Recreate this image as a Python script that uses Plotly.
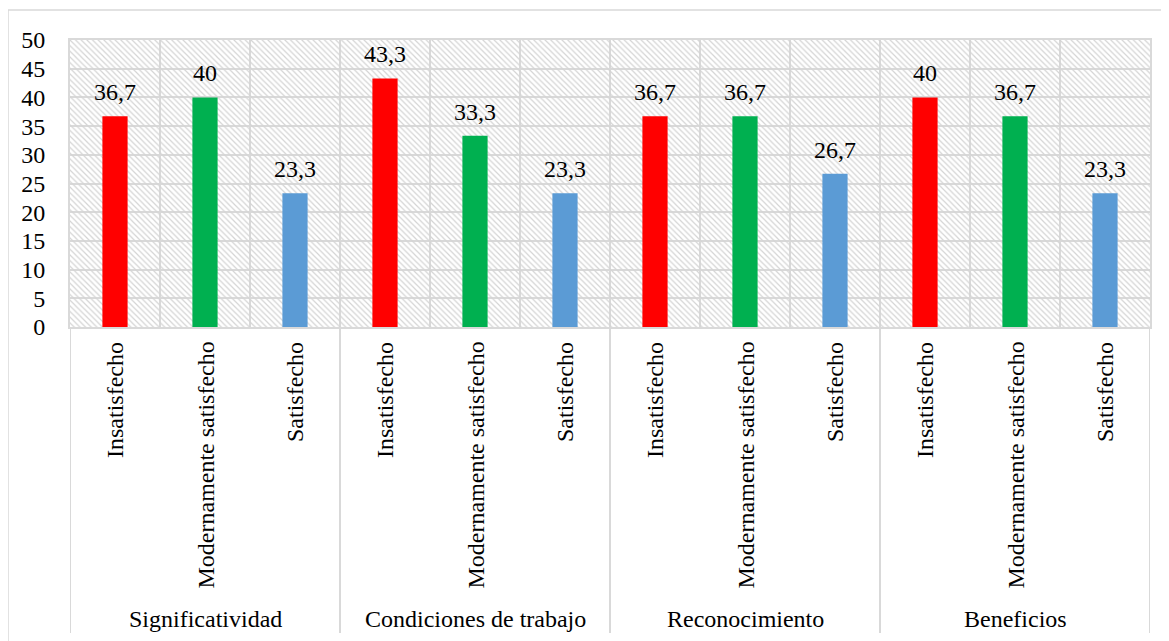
import plotly.graph_objects as go

groups = ["Significatividad", "Condiciones de trabajo", "Reconocimiento", "Beneficios"]
levels = ["Insatisfecho", "Modernamente satisfecho", "Satisfecho"]
significatividad = [36.7, 40, 23.3]
condiciones = [43.3, 33.3, 23.3]
reconocimiento = [36.7, 36.7, 26.7]
beneficios = [40, 36.7, 23.3]
level_colors = ["#FF0000", "#00B050", "#5B9BD5"]
y_ticks = [0, 5, 10, 15, 20, 25, 30, 35, 40, 45, 50]

series = [significatividad, condiciones, reconocimiento, beneficios]
ymax = max(y_ticks)
FONT = "Liberation Serif, Times New Roman, serif"
FS = 24
GRID = "#d9d9d9"

n = len(groups) * len(levels)
xs, ys, cols, labels = [], [], [], []
for gi, vals in enumerate(series):
    for li, v in enumerate(vals):
        xs.append(gi * len(levels) + li + 0.5)
        ys.append(v)
        cols.append(level_colors[li])
        labels.append(levels[li])

fig = go.Figure()
# hatched background
fig.add_trace(go.Bar(
    x=[i + 0.5 for i in range(n)], y=[ymax] * n, width=1,
    marker=dict(color="rgba(0,0,0,0)", line=dict(width=0),
                pattern=dict(shape="\\", fgcolor="#d4d4d4", bgcolor="rgba(0,0,0,0)",
                             size=4, solidity=0.3, fillmode="replace")),
    hoverinfo="skip", showlegend=False))
fig.add_trace(go.Bar(
    x=xs, y=ys, width=0.28, marker=dict(color=cols, line=dict(width=0)),
    showlegend=False))

ann = []
for x, y in zip(xs, ys):
    ann.append(dict(x=x, y=y, xref="x", yref="y", text=f"{y:g}".replace(".", ","),
                    showarrow=False, yanchor="bottom", xanchor="center", yshift=9,
                    font=dict(family=FONT, size=FS, color="black")))
for x, lab in zip(xs, labels):
    ann.append(dict(x=x, y=-13 / 287, xref="x", yref="paper", text=lab, textangle=-90,
                    showarrow=False, yanchor="top", xanchor="center",
                    font=dict(family=FONT, size=FS, color="black")))
for gi, g in enumerate(groups):
    ann.append(dict(x=gi * len(levels) + len(levels) / 2, y=-292 / 287, xref="x", yref="paper",
                    text=g, showarrow=False, yanchor="middle", xanchor="center",
                    font=dict(family=FONT, size=FS, color="black")))

shapes = []
for gi in range(len(groups) + 1):
    shapes.append(dict(type="line", xref="x", yref="paper", x0=gi * len(levels), x1=gi * len(levels),
                       y0=-306 / 287, y1=0, line=dict(color=GRID, width=2)))
shapes.append(dict(type="rect", xref="paper", yref="paper", x0=-62 / 1080, x1=1110 / 1080,
                   y0=-330 / 287, y1=317 / 287, line=dict(color=GRID, width=1.5),
                   fillcolor="rgba(0,0,0,0)"))

fig.update_layout(
    width=1161, height=633, margin=dict(l=62, r=19, t=32, b=314),
    paper_bgcolor="white", plot_bgcolor="white", barmode="overlay",
    annotations=ann, shapes=shapes, showlegend=False,
    xaxis=dict(range=[0, n], tickvals=list(range(n + 1)), showticklabels=False, ticks="",
               showgrid=True, gridcolor=GRID, gridwidth=2, zeroline=False, automargin=False,
               showline=True, linecolor=GRID, linewidth=2, mirror=True),
    yaxis=dict(range=[0, ymax], tickvals=y_ticks, showgrid=True, gridcolor=GRID, gridwidth=2,
               zeroline=False, showline=True, linecolor=GRID, linewidth=2, mirror=True,
               ticks="", ticklabelstandoff=18, automargin=False,
               tickfont=dict(family=FONT, size=FS, color="black")),
)
fig.write_html("out.html")
